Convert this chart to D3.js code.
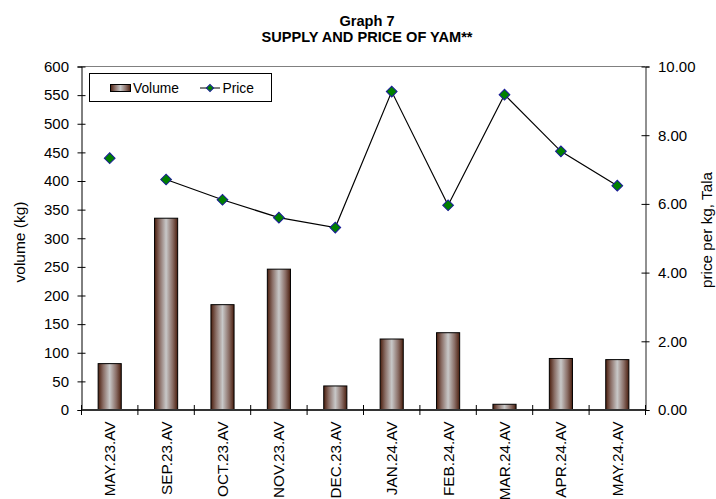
<!DOCTYPE html>
<html><head><meta charset="utf-8">
<script src="https://cdn.jsdelivr.net/npm/d3@7"></script>
<style>
html,body{margin:0;padding:0;background:#fff;}
text{font-family:"Liberation Sans",Arial,sans-serif;fill:#000;}
</style></head>
<body><svg id="c" width="716" height="499"></svg>
<script>
const categories = ["MAY.23.AV","SEP.23.AV","OCT.23.AV","NOV.23.AV","DEC.23.AV","JAN.24.AV","FEB.24.AV","MAR.24.AV","APR.24.AV","MAY.24.AV"];
const volume = [81, 335, 184, 246, 42, 124, 135, 10, 90, 88];
const price = [7.33, 6.71, 6.12, 5.60, 5.31, 9.27, 5.96, 9.18, 7.53, 6.53];
// price line is broken between MAY.23 and SEP.23 (no months in between)
const lineSegments = [[1,2,3,4,5,6,7,8,9]];
const leftTicks = [0,50,100,150,200,250,300,350,400,450,500,550,600];
const rightTicks = [0,2,4,6,8,10];
const titleLines = ["Graph 7","SUPPLY AND PRICE OF YAM**"];

const svg = d3.select("#c");
const L = 81.5, R = 645.5, T = 66.5, B = 410;

const x = d3.scaleBand().domain(categories).range([L, R]).paddingInner(0.59).paddingOuter(0.295);
const step = (R - L) / categories.length;
const xc = d => x(d) + x.bandwidth() / 2;
const yL = d3.scaleLinear().domain([0, 600]).range([B, T]);
const yR = d3.scaleLinear().domain([0, 10]).range([B, T]);

// gradient
const defs = svg.append("defs");
const g = defs.append("linearGradient").attr("id","barg").attr("x1","0").attr("x2","1").attr("y1","0").attr("y2","0");
g.append("stop").attr("offset","0").attr("stop-color","#4a1e0e");
g.append("stop").attr("offset","0.22").attr("stop-color","#8a6e66");
g.append("stop").attr("offset","0.5").attr("stop-color","#c8c8c8");
g.append("stop").attr("offset","0.78").attr("stop-color","#8a6e66");
g.append("stop").attr("offset","1").attr("stop-color","#4a1e0e");

// top border
svg.append("line").attr("x1",L).attr("x2",R).attr("y1",T).attr("y2",T).attr("stroke","#808080").attr("stroke-width",1);

// bars
svg.append("g").selectAll("rect").data(categories).join("rect")
  .attr("x", d => x(d)).attr("width", x.bandwidth())
  .attr("y", (d,i) => yL(volume[i])).attr("height", (d,i) => B - yL(volume[i]))
  .attr("fill","url(#barg)").attr("stroke","#000").attr("stroke-width",1);

// left axis
const la = svg.append("g").attr("transform",`translate(${L},0)`)
  .call(d3.axisLeft(yL).tickValues(leftTicks).tickSize(4).tickPadding(8).tickFormat(d3.format("d")));
la.select(".domain").attr("stroke","#000");
la.selectAll(".tick line").attr("x2",4).attr("x1",-4).attr("stroke","#000");
la.selectAll(".tick text").attr("x",-12.5).style("font-size","15px").style("font-family","Liberation Sans, Arial");

// right axis
const ra = svg.append("g").attr("transform",`translate(${R},0)`)
  .call(d3.axisRight(yR).tickValues(rightTicks).tickSize(4).tickFormat(d3.format(".2f")));
ra.select(".domain").attr("stroke","#222");
ra.selectAll(".tick line").attr("x1",-4).attr("x2",4).attr("stroke","#000");
ra.selectAll(".tick text").attr("x",12.5).style("font-size","15px").style("font-family","Liberation Sans, Arial");

// x axis
const xa = svg.append("g").attr("transform",`translate(0,${B})`);
xa.append("line").attr("x1",L).attr("x2",R).attr("stroke","#333").attr("stroke-width",2);
const bounds = d3.range(categories.length + 1).map(i => L + i * step);
xa.selectAll("line.t").data(bounds).join("line").attr("class","t")
  .attr("x1",d=>d).attr("x2",d=>d).attr("y1",-5).attr("y2",5).attr("stroke","#000");
xa.selectAll("text").data(categories).join("text")
  .attr("transform", d => `translate(${xc(d)+5.5},${11.5}) rotate(-90)`)
  .attr("text-anchor","end").style("font-size","15.3px").text(d => d);

// price line
const line = d3.line().x(i => xc(categories[i])).y(i => yR(price[i]));
svg.append("g").selectAll("path").data(lineSegments).join("path")
  .attr("d", line).attr("fill","none").attr("stroke","#000").attr("stroke-width",1.2);
svg.append("g").selectAll("path").data(categories).join("path")
  .attr("transform",(d,i)=>`translate(${xc(d)},${yR(price[i])}) rotate(45)`)
  .attr("d", d3.symbol().type(d3.symbolSquare).size(58))
  .attr("fill","#008000").attr("stroke","#1a1a9a").attr("stroke-width",1);

// axis titles
svg.append("text").attr("transform",`translate(24.5,242) rotate(-90)`).attr("text-anchor","middle")
  .style("font-size","15.5px").text("volume (kg)");
svg.append("text").attr("transform",`translate(711.5,230) rotate(-90)`).attr("text-anchor","middle")
  .style("font-size","15.3px").text("price per kg, Tala");

// title
svg.append("g").selectAll("text").data(titleLines).join("text")
  .attr("x",367).attr("y",(d,i)=>25.5 + i*16.5).attr("text-anchor","middle")
  .style("font-size","14.6px").style("font-weight","bold").text(d=>d);

// legend
const lg = svg.append("g");
lg.append("rect").attr("x",89.5).attr("y",73.5).attr("width",182).attr("height",28).attr("fill","#fff").attr("stroke","#000");
lg.append("rect").attr("x",110.5).attr("y",84.5).attr("width",20).attr("height",7).attr("fill","url(#barg)").attr("stroke","#000");
lg.append("text").attr("x",133).attr("y",93).style("font-size","13.8px").text("Volume");
lg.append("line").attr("x1",200).attr("x2",220).attr("y1",88).attr("y2",88).attr("stroke","#000");
lg.append("path").attr("transform","translate(210,88) rotate(45)").attr("d", d3.symbol().type(d3.symbolSquare).size(26))
  .attr("fill","#008000").attr("stroke","#1a1a9a");
lg.append("text").attr("x",222.5).attr("y",93).style("font-size","13.8px").text("Price");
</script></body></html>
